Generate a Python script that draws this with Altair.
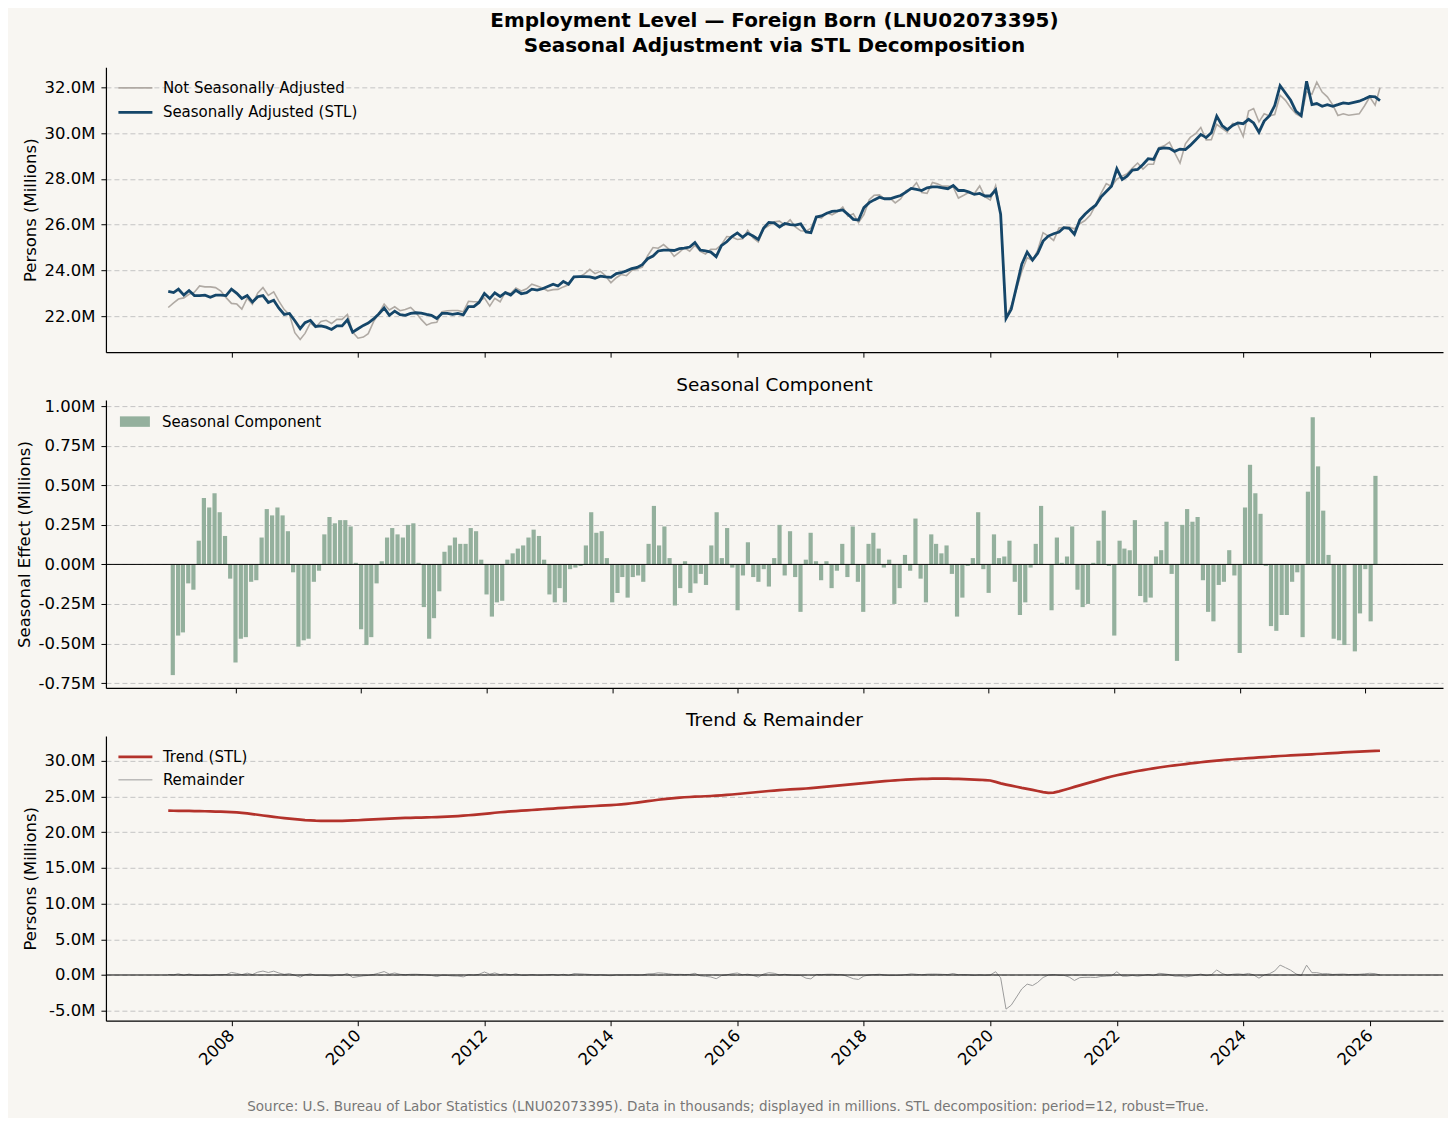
import altair as alt
import pandas as pd

# ---------------- data (millions), monthly Jan 2007 .. Mar 2026 ----------------
# Oct 2025 was not collected (None) and is left out of the chart.
sa = [
    23.08, 23.03, 23.18, 22.92, 23.12, 22.90, 22.90, 22.92, 22.83, 22.92, 22.92, 22.90,  # 2007
    23.18, 23.00, 22.77, 22.90, 22.62, 22.85, 22.90, 22.60, 22.70, 22.35, 22.08, 22.12,  # 2008
    21.80, 21.46, 21.72, 21.82, 21.55, 21.58, 21.52, 21.42, 21.58, 21.58, 21.84, 21.30,  # 2009
    21.45, 21.60, 21.70, 21.88, 22.10, 22.36, 22.04, 22.22, 22.07, 22.04, 22.12, 22.15,  # 2010
    22.13, 22.08, 22.04, 21.90, 22.12, 22.12, 22.08, 22.12, 22.06, 22.42, 22.42, 22.60,  # 2011
    22.99, 22.77, 23.02, 22.86, 23.03, 22.92, 23.13, 22.98, 23.03, 23.18, 23.14, 23.20,  # 2012
    23.30, 23.40, 23.32, 23.52, 23.40, 23.72, 23.73, 23.73, 23.72, 23.66, 23.75, 23.72,  # 2013
    23.70, 23.86, 23.90, 23.98, 24.08, 24.13, 24.25, 24.51, 24.63, 24.85, 24.89, 24.89,  # 2014
    24.87, 24.95, 24.97, 25.02, 25.22, 24.89, 24.85, 24.80, 24.60, 25.08, 25.25, 25.48,  # 2015
    25.64, 25.45, 25.62, 25.50, 25.35, 25.85, 26.10, 26.08, 25.90, 26.05, 26.00, 25.98,  # 2016
    26.03, 25.68, 25.65, 26.33, 26.38, 26.50, 26.58, 26.60, 26.64, 26.45, 26.23, 26.20,  # 2017
    26.74, 26.96, 27.08, 27.20, 27.13, 27.13, 27.20, 27.27, 27.42, 27.58, 27.54, 27.49,  # 2018
    27.61, 27.65, 27.65, 27.61, 27.57, 27.71, 27.49, 27.49, 27.42, 27.32, 27.36, 27.25,  # 2019
    27.25, 27.51, 26.45, 21.90, 22.30, 23.30, 24.27, 24.80, 24.45, 24.75, 25.28, 25.50,  # 2020
    25.60, 25.68, 25.87, 25.84, 25.58, 26.20, 26.45, 26.67, 26.85, 27.20, 27.45, 27.68,  # 2021
    28.44, 27.97, 28.12, 28.38, 28.41, 28.63, 28.88, 28.85, 29.31, 29.35, 29.33, 29.20,  # 2022
    29.30, 29.28, 29.46, 29.70, 29.94, 29.80, 30.01, 30.74, 30.33, 30.15, 30.33, 30.44,  # 2023
    30.41, 30.60, 30.44, 30.04, 30.52, 30.76, 31.20, 32.07, 31.75, 31.43, 30.95, 30.76,  # 2024
    32.26, 31.24, 31.29, 31.17, 31.24, 31.17, 31.24, 31.32, 31.29, None, 31.39, 31.49,   # 2025
    31.60, 31.58, 31.42,                                                                 # 2026
]

seasonal = [
    -0.70, -0.45, -0.43, -0.12, -0.16, 0.15, 0.42, 0.36, 0.45, 0.33, 0.18, -0.09,
    -0.62, -0.47, -0.46, -0.11, -0.10, 0.17, 0.35, 0.31, 0.36, 0.31, 0.21, -0.05,
    -0.52, -0.48, -0.47, -0.11, -0.04, 0.19, 0.30, 0.26, 0.28, 0.28, 0.24, 0.01,
    -0.41, -0.51, -0.46, -0.12, 0.02, 0.17, 0.23, 0.19, 0.17, 0.25, 0.26, 0.01,
    -0.27, -0.47, -0.34, -0.17, 0.08, 0.12, 0.17, 0.13, 0.13, 0.23, 0.21, 0.03,
    -0.19, -0.33, -0.24, -0.23, 0.03, 0.07, 0.10, 0.12, 0.17, 0.22, 0.18, 0.03,
    -0.19, -0.24, -0.15, -0.24, -0.03, -0.02, -0.01, 0.12, 0.33, 0.20, 0.21, 0.04,
    -0.24, -0.18, -0.08, -0.21, -0.08, -0.07, -0.11, 0.13, 0.37, 0.12, 0.24, 0.04,
    -0.26, -0.15, 0.02, -0.18, -0.12, -0.06, -0.13, 0.12, 0.33, 0.04, 0.23, -0.02,
    -0.29, -0.07, 0.14, -0.08, -0.11, -0.03, -0.14, 0.04, 0.25, -0.07, 0.21, -0.08,
    -0.30, 0.03, 0.20, 0.02, -0.10, 0.02, -0.15, -0.04, 0.13, -0.08, 0.24, -0.11,
    -0.30, 0.13, 0.20, 0.10, -0.02, 0.03, -0.25, -0.15, 0.06, -0.04, 0.29, -0.09,
    -0.24, 0.19, 0.13, 0.07, 0.12, -0.06, -0.33, -0.21, -0.01, 0.04, 0.33, -0.03,
    -0.18, 0.19, 0.04, 0.05, 0.15, -0.11, -0.32, -0.24, -0.02, 0.13, 0.37, 0.00,
    -0.29, 0.17, 0.01, 0.05, 0.24, -0.16, -0.27, -0.25, 0.01, 0.15, 0.34, -0.01,
    -0.45, 0.15, 0.10, 0.09, 0.28, -0.20, -0.24, -0.21, 0.05, 0.09, 0.27, -0.06,
    -0.61, 0.25, 0.35, 0.27, 0.30, -0.10, -0.30, -0.36, -0.13, -0.11, 0.09, -0.07,
    -0.56, 0.36, 0.63, 0.45, 0.32, -0.01, -0.39, -0.42, -0.32, -0.32, -0.11, -0.05,
    -0.46, 0.46, 0.93, 0.62, 0.34, 0.06, -0.47, -0.48, -0.51, None, -0.55, -0.31,
    -0.03, -0.36, 0.56,
]

trend = [
    23.02, 23.01, 23.00, 22.99, 22.98, 22.97, 22.96, 22.94, 22.92, 22.90, 22.88, 22.85,
    22.82, 22.78, 22.72, 22.64, 22.55, 22.45, 22.35, 22.25, 22.16, 22.07, 21.99, 21.91,
    21.84, 21.76, 21.70, 21.66, 21.62, 21.60, 21.58, 21.58, 21.59, 21.60, 21.62, 21.65,
    21.68, 21.72, 21.76, 21.80, 21.84, 21.88, 21.91, 21.94, 21.97, 22.00, 22.02, 22.04,
    22.06, 22.08, 22.10, 22.12, 22.15, 22.18, 22.22, 22.27, 22.32, 22.38, 22.44, 22.50,
    22.57, 22.65, 22.73, 22.80, 22.86, 22.92, 22.97, 23.02, 23.07, 23.12, 23.17, 23.22,
    23.27, 23.32, 23.37, 23.42, 23.47, 23.52, 23.56, 23.60, 23.64, 23.68, 23.72, 23.76,
    23.80, 23.85, 23.91, 23.98, 24.06, 24.15, 24.25, 24.35, 24.45, 24.55, 24.64, 24.72,
    24.79, 24.85, 24.90, 24.94, 24.98, 25.01, 25.04, 25.08, 25.12, 25.17, 25.23, 25.29,
    25.36, 25.43, 25.50, 25.57, 25.64, 25.71, 25.78, 25.84, 25.90, 25.95, 26.00, 26.04,
    26.08, 26.13, 26.19, 26.26, 26.33, 26.40, 26.47, 26.54, 26.61, 26.68, 26.75, 26.82,
    26.89, 26.96, 27.03, 27.09, 27.15, 27.21, 27.27, 27.32, 27.37, 27.41, 27.44, 27.47,
    27.49, 27.51, 27.52, 27.52, 27.51, 27.49, 27.47, 27.44, 27.41, 27.38, 27.35, 27.30,
    27.25, 27.05, 26.85, 26.68, 26.53, 26.38, 26.22, 26.08, 25.93, 25.78, 25.63, 25.52,
    25.55, 25.72, 25.92, 26.13, 26.35, 26.57, 26.78, 26.99, 27.20, 27.41, 27.61, 27.80,
    27.98, 28.14, 28.29, 28.44, 28.58, 28.70, 28.82, 28.94, 29.07, 29.18, 29.28, 29.37,
    29.46, 29.55, 29.64, 29.73, 29.81, 29.89, 29.97, 30.04, 30.11, 30.17, 30.23, 30.28,
    30.33, 30.38, 30.43, 30.48, 30.53, 30.58, 30.63, 30.68, 30.72, 30.76, 30.80, 30.84,
    30.88, 30.92, 30.96, 31.00, 31.05, 31.09, 31.13, 31.18, 31.22, None, 31.29, 31.33,
    31.36, 31.39, 31.42,
]

months = pd.date_range("2007-01-01", periods=len(sa), freq="MS")

top_ticks = [22, 24, 26, 28, 30, 32]
mid_ticks = [-0.75, -0.5, -0.25, 0.0, 0.25, 0.5, 0.75, 1.0]
bot_ticks = [-5, 0, 5, 10, 15, 20, 25, 30]
year_ticks = list(range(2008, 2027, 2))

NSA = "Not Seasonally Adjusted"
SAN = "Seasonally Adjusted (STL)"
SEAS = "Seasonal Component"
TR = "Trend (STL)"
REM = "Remainder"

title_lines = ["Employment Level \u2014 Foreign Born (LNU02073395)",
               "Seasonal Adjustment via STL Decomposition"]
source = ("Source: U.S. Bureau of Labor Statistics (LNU02073395). Data in thousands; "
          "displayed in millions. STL decomposition: period=12, robust=True.")

# ---------------- tables ----------------
df = pd.DataFrame({"date": months, "sa": sa, "seasonal": seasonal, "trend": trend}).dropna()
df = df.reset_index(drop=True)
df["nsa"] = df["sa"] + df["seasonal"]          # STL identity: observed = SA + seasonal
df["remainder"] = df["sa"] - df["trend"]       # remainder = SA - trend
df["date"] = df["date"].dt.strftime("%Y-%m-%dT00:00:00")

top_df = pd.concat([
    pd.DataFrame({"date": df["date"], "value": df["nsa"], "series": NSA}),
    pd.DataFrame({"date": df["date"], "value": df["sa"], "series": SAN}),
], ignore_index=True)
mid_df = pd.DataFrame({"date": df["date"], "value": df["seasonal"], "series": SEAS})
bot_df = pd.concat([
    pd.DataFrame({"date": df["date"], "value": df["trend"], "series": TR}),
    pd.DataFrame({"date": df["date"], "value": df["remainder"], "series": REM}),
], ignore_index=True)
zero_df = pd.DataFrame({"z": [0]})

# ---------------- styling helpers ----------------
W = 1338
FONT = "DejaVu Sans"
X_DOMAIN = [alt.DateTime(year=2006, month=1, date=6), alt.DateTime(year=2027, month=2, date=28)]
TICKS = [alt.DateTime(year=y, month=1, date=1) for y in year_ticks]


def x_enc(bottom=False):
    kw = dict(values=TICKS, format="%Y", grid=False, tickSize=5, tickColor="black",
              domainColor="black", domainWidth=1.2, labelColor="black")
    if bottom:
        axis = alt.Axis(labels=True, labelAngle=-45, labelAlign="right", labelBaseline="middle",
                        labelFontSize=16.5, labelPadding=7, title=source, titleFontSize=13.5,
                        titleFontWeight="normal", titleColor="#777777", titleX=622, titleY=86,
                        titleAlign="center", titleBaseline="middle", **kw)
    else:
        axis = alt.Axis(labels=False, title=None, **kw)
    return alt.X("date:T", scale=alt.Scale(domain=X_DOMAIN), axis=axis)


def y_axis(vals, fmt, title):
    expr = ("(datum.value < 0 ? '-' : '') + format(abs(datum.value), '" + fmt + "') + 'M'")
    return alt.Axis(values=vals, labelExpr=expr, title=title,
                    grid=True, gridDash=[5, 3], gridColor="#c4c4c4", gridWidth=1,
                    tickSize=5, tickColor="black", domainColor="black", domainWidth=1.2,
                    labelFontSize=16.5, labelColor="black", labelPadding=6,
                    titleFontSize=16.5, titleFontWeight="normal", titleColor="black",
                    titlePadding=6)


line_legend = alt.Legend(title=None, orient="top-left", offset=7, padding=4, labelFontSize=15,
                         labelColor="black", labelLimit=400, symbolType="M-1,0H3",
                         symbolSize=289, labelOffset=26, rowPadding=6)

# ---------------- top panel ----------------
top = alt.Chart(top_df).mark_line().encode(
    x=x_enc(),
    y=alt.Y("value:Q", scale=alt.Scale(domain=[20.43, 32.87], nice=False, zero=False),
            axis=y_axis(top_ticks, ".1f", "Persons (Millions)")),
    color=alt.Color("series:N", scale=alt.Scale(domain=[NSA, SAN], range=["#b0aaa4", "#154669"]),
                    legend=line_legend),
    strokeWidth=alt.StrokeWidth("series:N", scale=alt.Scale(domain=[NSA, SAN], range=[1.6, 2.8]),
                                legend=line_legend),
).properties(
    width=W, height=285,
    title=alt.TitleParams(text=title_lines, fontSize=20, fontWeight="bold", anchor="middle",
                          offset=11, lineHeight=25, color="black", font=FONT),
)

# ---------------- middle panel ----------------
bars = alt.Chart(mid_df).mark_bar(size=4.2).encode(
    x=x_enc(),
    y=alt.Y("value:Q", scale=alt.Scale(domain=[-0.781, 1.039], nice=False, zero=False),
            axis=y_axis(mid_ticks, ".2f", "Seasonal Effect (Millions)")),
    color=alt.Color("series:N", scale=alt.Scale(domain=[SEAS], range=["#94b09d"]),
                    legend=alt.Legend(title=None, orient="top-left", offset=10, padding=4,
                                      labelFontSize=15, labelColor="black", labelLimit=400,
                                      symbolType="M-1,-0.7H3V0.7H-1Z", symbolSize=225,
                                      symbolStrokeWidth=0, labelOffset=27)),
)
mid_zero = alt.Chart(zero_df).mark_rule(color="black", strokeWidth=1).encode(y=alt.datum(0))
mid = alt.layer(bars, mid_zero).properties(
    width=W, height=288,
    title=alt.TitleParams(text=SEAS, fontSize=18.5, fontWeight="normal", offset=4,
                          color="black", font=FONT),
)

# ---------------- bottom panel ----------------
bot_zero = alt.Chart(zero_df).mark_rule(color="black", strokeWidth=1).encode(y=alt.datum(0))
bot_lines = alt.Chart(bot_df).mark_line().encode(
    x=x_enc(bottom=True),
    y=alt.Y("value:Q", scale=alt.Scale(domain=[-6.4, 33.5], nice=False, zero=False),
            axis=y_axis(bot_ticks, ".1f", "Persons (Millions)")),
    color=alt.Color("series:N", scale=alt.Scale(domain=[TR, REM], range=["#b3322b", "#9c9c9c"]),
                    legend=line_legend),
    strokeWidth=alt.StrokeWidth("series:N", scale=alt.Scale(domain=[TR, REM], range=[2.7, 1.0]),
                                legend=line_legend),
)
bot = alt.layer(bot_lines, bot_zero).properties(
    width=W, height=285,
    title=alt.TitleParams(text="Trend & Remainder", fontSize=18.5, fontWeight="normal", offset=6,
                          color="black", font=FONT),
)

chart = alt.vconcat(top, mid, bot, spacing=17).resolve_scale(
    color="independent", strokeWidth="independent", y="independent"
).resolve_legend(
    color="independent", strokeWidth="independent"
).configure(
    background="#f8f6f2",
    padding={"left": 8, "top": 3, "right": 4, "bottom": 4},
    font=FONT,
).configure_view(stroke=None).configure_legend(fillColor=None, strokeColor=None)

chart.save("out.html", embed_options={"renderer": "svg", "actions": False})
